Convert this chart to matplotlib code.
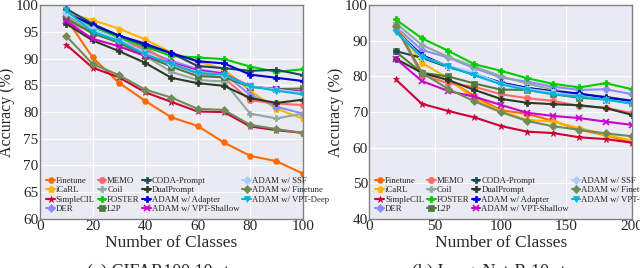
import matplotlib
matplotlib.use("Agg")
from matplotlib import pyplot as plt
import seaborn as sns

sns.set_style("darkgrid")
plt.rcParams['font.family'] = ['Liberation Serif', 'DejaVu Serif']

names = ["Finetune", "iCaRL", "SimpleCIL", "DER",
         "MEMO", "Coil", "FOSTER", "L2P",
         "CODA-Prompt", "DualPrompt", "ADAM w/ Adapter", "ADAM w/ VPT-Shallow",
         "ADAM w/ SSF", "ADAM w/ Finetune", "ADAM w/ VPT-Deep"]
colors = ["#FF6A00", "#FFB400", "#CC0033", "#8C8CFF",
          "#FF6B6B", "#8FAAA0", "#00CC00", "#4E7A3C",
          "#1A4A5A", "#2B3A22", "#0000CC", "#CC00CC",
          "#A6CFFF", "#6E8B58", "#00B4D8"]
markers = ["H", "p", "*", "D", "o", "P", "P", "s", "P", "P", "P", "x", "D", "D", "v"]

# CIFAR100, 10 steps
cifar_x = [10, 20, 30, 40, 50, 60, 70, 80, 90, 100]
cifar = {
    "Finetune":            [97.5, 90.2, 85.5, 82.1, 79.0, 77.4, 74.3, 71.8, 70.8, 68.5],
    "iCaRL":               [98.5, 97.2, 95.6, 93.6, 91.1, 89.5, 88.0, 84.0, 80.6, 78.8],
    "SimpleCIL":           [92.6, 88.3, 86.5, 83.7, 81.9, 80.1, 80.0, 77.3, 76.6, 76.1],
    "DER":                 [98.0, 96.0, 94.0, 91.5, 89.6, 88.0, 87.2, 83.2, 81.0, 79.7],
    "MEMO":                [97.0, 95.0, 93.0, 92.0, 89.0, 87.2, 86.4, 82.2, 81.6, 81.3],
    "Coil":                [98.0, 95.0, 93.0, 90.5, 87.5, 86.0, 85.7, 79.7, 78.8, 79.7],
    "FOSTER":              [98.5, 96.0, 94.0, 92.2, 90.5, 90.2, 89.9, 88.5, 87.5, 88.0],
    "L2P":                 [97.5, 94.7, 93.0, 90.5, 88.5, 86.7, 86.5, 84.7, 84.3, 84.4],
    "CODA-Prompt":         [99.3, 96.5, 94.3, 92.5, 91.0, 88.6, 88.2, 87.7, 87.9, 86.9],
    "DualPrompt":          [96.5, 93.4, 91.4, 89.2, 86.4, 85.4, 84.9, 82.6, 81.7, 82.3],
    "ADAM w/ Adapter":     [98.5, 96.3, 94.3, 92.8, 91.0, 89.5, 89.1, 87.0, 86.4, 85.8],
    "ADAM w/ VPT-Shallow": [97.0, 93.7, 92.3, 90.5, 89.2, 87.8, 87.2, 84.8, 84.3, 83.8],
    "ADAM w/ SSF":         [98.5, 95.5, 93.5, 91.0, 89.0, 87.5, 87.0, 84.8, 84.2, 83.6],
    "ADAM w/ Finetune":    [94.2, 89.0, 86.9, 84.2, 82.7, 80.6, 80.4, 77.6, 76.8, 76.1],
    "ADAM w/ VPT-Deep":    [99.0, 95.0, 93.3, 90.8, 89.0, 87.3, 87.0, 84.8, 84.0, 83.3],
}

# ImageNet-R, 10 steps
inr_x = [20, 40, 60, 80, 100, 120, 140, 160, 180, 200]
inr = {
    "Finetune":            [94.5, 81.0, 79.0, 74.5, 70.5, 69.5, 67.5, 65.0, 63.5, 61.5],
    "iCaRL":               [94.5, 83.8, 79.5, 73.6, 70.3, 67.8, 67.3, 65.5, 63.6, 62.0],
    "SimpleCIL":           [79.2, 72.3, 70.3, 68.5, 66.1, 64.5, 64.1, 62.9, 62.4, 61.4],
    "DER":                 [94.0, 87.4, 85.3, 82.3, 79.7, 78.5, 77.1, 76.2, 76.4, 75.0],
    "MEMO":                [94.0, 80.4, 78.1, 77.1, 75.0, 73.9, 73.1, 71.7, 71.2, 69.7],
    "Coil":                [95.0, 88.8, 85.5, 82.7, 80.1, 78.0, 76.3, 75.0, 74.3, 73.0],
    "FOSTER":              [96.0, 90.7, 87.2, 83.4, 81.6, 79.5, 77.9, 76.9, 78.1, 76.4],
    "L2P":                 [87.0, 81.0, 80.0, 78.0, 76.3, 76.2, 75.0, 74.0, 73.5, 72.5],
    "CODA-Prompt":         [87.1, 85.2, 82.6, 80.6, 78.3, 76.7, 75.8, 75.0, 74.2, 73.2],
    "DualPrompt":          [85.0, 81.0, 79.0, 76.2, 73.7, 72.6, 72.2, 71.9, 71.1, 69.2],
    "ADAM w/ Adapter":     [93.0, 86.0, 82.8, 80.8, 78.2, 76.8, 75.8, 75.2, 74.0, 73.0],
    "ADAM w/ VPT-Shallow": [85.0, 78.7, 75.9, 74.3, 72.0, 69.8, 68.9, 68.3, 67.3, 66.4],
    "ADAM w/ SSF":         [93.0, 85.5, 83.0, 81.0, 78.0, 76.5, 75.5, 74.5, 73.5, 72.5],
    "ADAM w/ Finetune":    [94.0, 81.0, 76.5, 73.0, 70.0, 67.5, 66.0, 65.0, 64.0, 63.2],
    "ADAM w/ VPT-Deep":    [92.5, 85.5, 82.8, 80.3, 77.8, 76.2, 75.0, 74.3, 73.5, 72.3],
}

fig = plt.figure(figsize=(6.4, 2.68), dpi=100)
ax1 = fig.add_axes([0.0625, 0.183, 0.4105, 0.798])
ax2 = fig.add_axes([0.577, 0.183, 0.4105, 0.798])

for ax, xs, data in [(ax1, cifar_x, cifar), (ax2, inr_x, inr)]:
    for n, c, m in zip(names, colors, markers):
        ax.plot(xs, data[n], color=c, marker=m, markersize=4.5, linewidth=1.5,
                markeredgewidth=1.2 if m == "x" else 0.5, label=n)
    for s in ax.spines.values():
        s.set_visible(True)
        s.set_color("#808080")
        s.set_linewidth(1.0)
    ax.tick_params(labelsize=11, pad=1, length=0)
    ax.set_xlabel("Number of Classes", fontsize=12.5, labelpad=1)
    ax.set_ylabel("Accuracy (%)", fontsize=11.5)
    ax.yaxis.set_label_coords(-0.095, 0.5)
    ax.legend(ncol=4, loc="lower left", fontsize=6.3, frameon=False,
              handlelength=1.0, handletextpad=0.1, columnspacing=0.3,
              labelspacing=0.12, borderaxespad=0.3)

ax1.set_xlim(0, 100)
ax1.set_ylim(60, 100)
ax1.set_xticks([0, 20, 40, 60, 80, 100])
ax1.set_yticks([60, 65, 70, 75, 80, 85, 90, 95, 100])

ax2.set_xlim(0, 200)
ax2.set_ylim(40, 100)
ax2.set_xticks([0, 50, 100, 150, 200])
ax2.set_yticks([40, 50, 60, 70, 80, 90, 100])

fig.text(0.266, 0.015, "(a) CIFAR100 10 steps", ha="center", va="top", fontsize=13)
fig.text(0.782, 0.015, "(b) ImageNet-R 10 steps", ha="center", va="top", fontsize=13)

fig.savefig("out.png", dpi=100)
